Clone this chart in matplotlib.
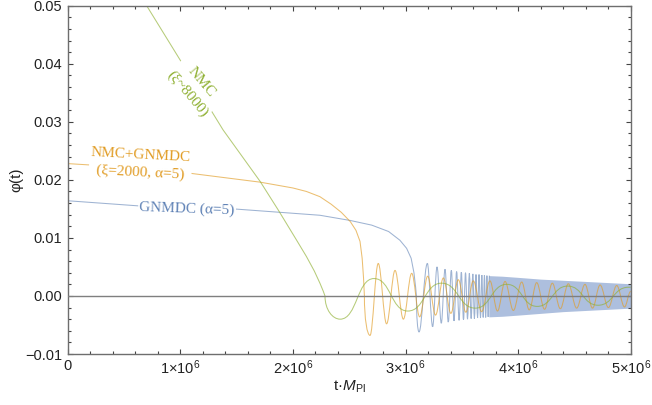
import numpy as np
import matplotlib
matplotlib.use('Agg')
import matplotlib.pyplot as plt
from matplotlib.path import Path
from matplotlib.patches import PathPatch

plt.rcParams['font.family'] = ['Liberation Sans', 'DejaVu Sans']
plt.rcParams['mathtext.fontset'] = 'custom'
plt.rcParams['mathtext.rm'] = 'Liberation Sans'
plt.rcParams['mathtext.it'] = 'Liberation Sans:italic'

# times in units of 10^6 / M_Pl

# GNMDC (alpha=5) - blue
blue_pre_t = [0.0, 0.64, 1.47, 2.24, 2.51, 2.70, 2.85, 2.95, 3.01, 3.05, 3.075, 3.09, 3.097]
blue_pre_y = [0.0164, 0.0155, 0.0150, 0.0139, 0.0130, 0.0122, 0.0111, 0.0096, 0.0082, 0.0065, 0.0040, 0.0015, 0.0]
blue_trough_t = [3.120, 3.241, 3.318, 3.380, 3.431, 3.476, 3.515, 3.551, 3.583, 3.612, 3.640,
                 3.666, 3.690, 3.712, 3.734]
blue_trough_y = [-0.0062, -0.0053, -0.0047, -0.0045, -0.0043, -0.0042, -0.0041, -0.0040, -0.0039, -0.0039, -0.0038,
                 -0.0038, -0.0037, -0.0037, -0.0036]
blue_peak_t = [3.194, 3.280, 3.351, 3.407, 3.454, 3.496, 3.533, 3.567, 3.598, 3.626, 3.653,
               3.678, 3.701, 3.723, 3.745]
blue_peak_y = [0.0056, 0.0050, 0.0046, 0.0044, 0.0042, 0.0041, 0.0040, 0.0039, 0.0038, 0.0037, 0.0037,
               0.0036, 0.0036, 0.0035, 0.0035]
# too dense to resolve: only the band is visible
band_t = [3.74, 3.86, 4.0, 4.2, 4.4, 4.6, 4.8, 5.0]
band_hi = [0.0035, 0.0034, 0.0032, 0.0029, 0.0027, 0.0025, 0.0023, 0.0021]
band_lo = [-0.0036, -0.0035, -0.0033, -0.0030, -0.0027, -0.0025, -0.0023, -0.0021]

# NMC+GNMDC (xi=2000, alpha=5) - orange
orange_pre_t = [0.0, 0.5, 1.06, 1.71, 2.0, 2.12, 2.24, 2.34, 2.43, 2.51, 2.56, 2.596, 2.615, 2.627, 2.635]
orange_pre_y = [0.0228, 0.0222, 0.0212, 0.0196, 0.0186, 0.0180, 0.0171, 0.0158, 0.0144, 0.0128, 0.0113,
                0.0094, 0.0065, 0.0032, 0.0]
orange_trough_t = [2.685, 2.832, 2.981, 3.126, 3.267, 3.403, 3.536, 3.676, 3.817, 3.958, 4.099,
                   4.235, 4.375, 4.520, 4.661, 4.802, 4.945]
orange_trough_y = [-0.0068, -0.0048, -0.0040, -0.0036, -0.0033, -0.0030, -0.0028, -0.0027, -0.0026, -0.0025, -0.0024,
                   -0.0023, -0.0022, -0.0021, -0.0021, -0.0020, -0.0019]
orange_peak_t = [2.758, 2.907, 3.055, 3.197, 3.336, 3.469, 3.602, 3.750, 3.884, 4.032, 4.165,
                 4.304, 4.446, 4.594, 4.728, 4.876]
orange_peak_y = [0.0056, 0.0044, 0.0039, 0.0034, 0.0031, 0.0028, 0.0026, 0.0026, 0.0025, 0.0024, 0.0023,
                 0.0022, 0.0021, 0.0020, 0.0019, 0.0018]
orange_end = (5.0, 0.0008)

# NMC (xi~8000) - green
green_pre_t = [0.66, 1.0, 1.38, 1.71, 1.87, 2.03, 2.12, 2.19, 2.24, 2.27, 2.285]
green_pre_y = [0.0513, 0.0406, 0.0286, 0.0197, 0.0148, 0.0097, 0.0068, 0.0043, 0.0022, 0.0008, 0.0]
green_trough_t = [2.42, 3.02, 3.62, 4.17, 4.71]
green_trough_y = [-0.0040, -0.0026, -0.0021, -0.0018, -0.0016]
green_peak_t = [2.72, 3.32, 3.90, 4.44, 4.98]
green_peak_y = [0.0030, 0.0022, 0.0020, 0.0017, 0.0015]
green_end = (5.0, 0.0015)

x_ticks = [0, 1, 2, 3, 4, 5]
x_ticklabels = ['0', '1×10$^{6}$', '2×10$^{6}$', '3×10$^{6}$', '4×10$^{6}$', '5×10$^{6}$']
y_ticks = [-0.01, 0.0, 0.01, 0.02, 0.03, 0.04, 0.05]
y_ticklabels = ['\u22120.01', '0.00', '0.01', '0.02', '0.03', '0.04', '0.05']

c_blue = '#5e81b5'
c_orange = '#e19c24'
c_green = '#8fb032'


def wave_path(pre_t, pre_y, tr_t, tr_y, pk_t, pk_y, end=None, k=0.36):
    """polyline for the slow part, then smooth bezier arcs through the extrema"""
    ext_t = np.concatenate([tr_t, pk_t])
    ext_y = np.concatenate([tr_y, pk_y])
    order = np.argsort(ext_t)
    ext_t, ext_y = list(ext_t[order]), list(ext_y[order])
    if end is not None:
        ext_t.append(end[0])
        ext_y.append(end[1])
    verts = list(zip(pre_t, pre_y))
    codes = [Path.MOVETO] + [Path.LINETO] * (len(verts) - 1)
    t0, y0 = verts[-1]
    t1, y1 = ext_t[0], ext_y[0]
    verts += [(t0, y0 + 0.6 * (y1 - y0)), (t1 - 0.5 * (t1 - t0), y1), (t1, y1)]
    codes += [Path.CURVE4] * 3
    for i in range(1, len(ext_t)):
        t0, y0, t1, y1 = ext_t[i - 1], ext_y[i - 1], ext_t[i], ext_y[i]
        dt = t1 - t0
        verts += [(t0 + k * dt, y0), (t1 - k * dt, y1), (t1, y1)]
        codes += [Path.CURVE4] * 3
    verts = np.array(verts) * [1e6, 1.0]
    return Path(verts, codes)


fig = plt.figure(figsize=(6.52, 4.05), dpi=100)
ax = fig.add_axes([67.7 / 652, 1 - 354 / 405, 563 / 652, 348.3 / 405])

ax.fill_between(np.array(band_t) * 1e6, band_lo, band_hi, color='#adbfde', lw=0, zorder=1)
ax.add_patch(PathPatch(wave_path(blue_pre_t, blue_pre_y, blue_trough_t, blue_trough_y,
                                 blue_peak_t, blue_peak_y),
                       fill=False, ec=c_blue, lw=0.75, alpha=0.6, zorder=2))
ax.add_patch(PathPatch(wave_path(orange_pre_t, orange_pre_y, orange_trough_t, orange_trough_y,
                                 orange_peak_t, orange_peak_y, orange_end),
                       fill=False, ec=c_orange, lw=0.75, alpha=0.65, zorder=2))
ax.add_patch(PathPatch(wave_path(green_pre_t, green_pre_y, green_trough_t, green_trough_y,
                                 green_peak_t, green_peak_y, green_end, k=0.5),
                       fill=False, ec=c_green, lw=0.75, alpha=0.65, zorder=2))

ax.axhline(0, color='#7f7f7f', lw=1.0, zorder=3)

serif = ['Liberation Serif', 'DejaVu Serif']
box = dict(fc='white', ec='none', pad=1.0)
ax.text(0.647e6, 0.0227, 'NMC+GNMDC\n(ξ=2000, α=5)', color=c_orange, family=serif, fontsize=11,
        ha='center', va='center', rotation=-3, linespacing=1.4, bbox=box, zorder=4)
ax.text(1.06e6, 0.01495, 'GNMDC (α=5)', color=c_blue, family=serif, fontsize=11,
        ha='center', va='center', rotation=-2, bbox=box, zorder=4)
ax.text(1.123e6, 0.0358, 'NMC\n(ξ~8000)', color=c_green, family=serif, fontsize=11,
        ha='center', va='center', rotation=-50, rotation_mode='anchor', linespacing=1.4,
        bbox=box, zorder=4)

ax.set_xlim(0, 5e6)
ax.set_ylim(-0.01, 0.05)
ax.set_xticks(np.array(x_ticks) * 1e6, x_ticklabels)
ax.set_xticks(np.arange(0, 5.01, 0.2) * 1e6, minor=True)
ax.set_yticks(y_ticks, y_ticklabels)
ax.set_yticks(np.arange(-0.01, 0.0501, 0.002), minor=True)
ax.tick_params(which='both', direction='in', top=True, right=True, color='#444444',
               width=0.8, labelsize=10.5, labelcolor='#222222')
ax.tick_params(which='major', length=3.5)
ax.tick_params(which='minor', length=2)
ax.tick_params(axis='y', pad=4)
ax.tick_params(axis='x', pad=3.5)
for s in ax.spines.values():
    s.set_color('#6e6e6e')
    s.set_linewidth(1.0)

ax.set_xlabel('t·$M_{\\mathrm{Pl}}$', fontsize=11, color='#222222')
ax.xaxis.set_label_coords(0.5, -0.072)
ax.set_ylabel('φ(t)', fontsize=11, color='#222222')
ax.yaxis.set_label_coords(-0.078, 0.5)

fig.savefig('out.png', dpi=100)
